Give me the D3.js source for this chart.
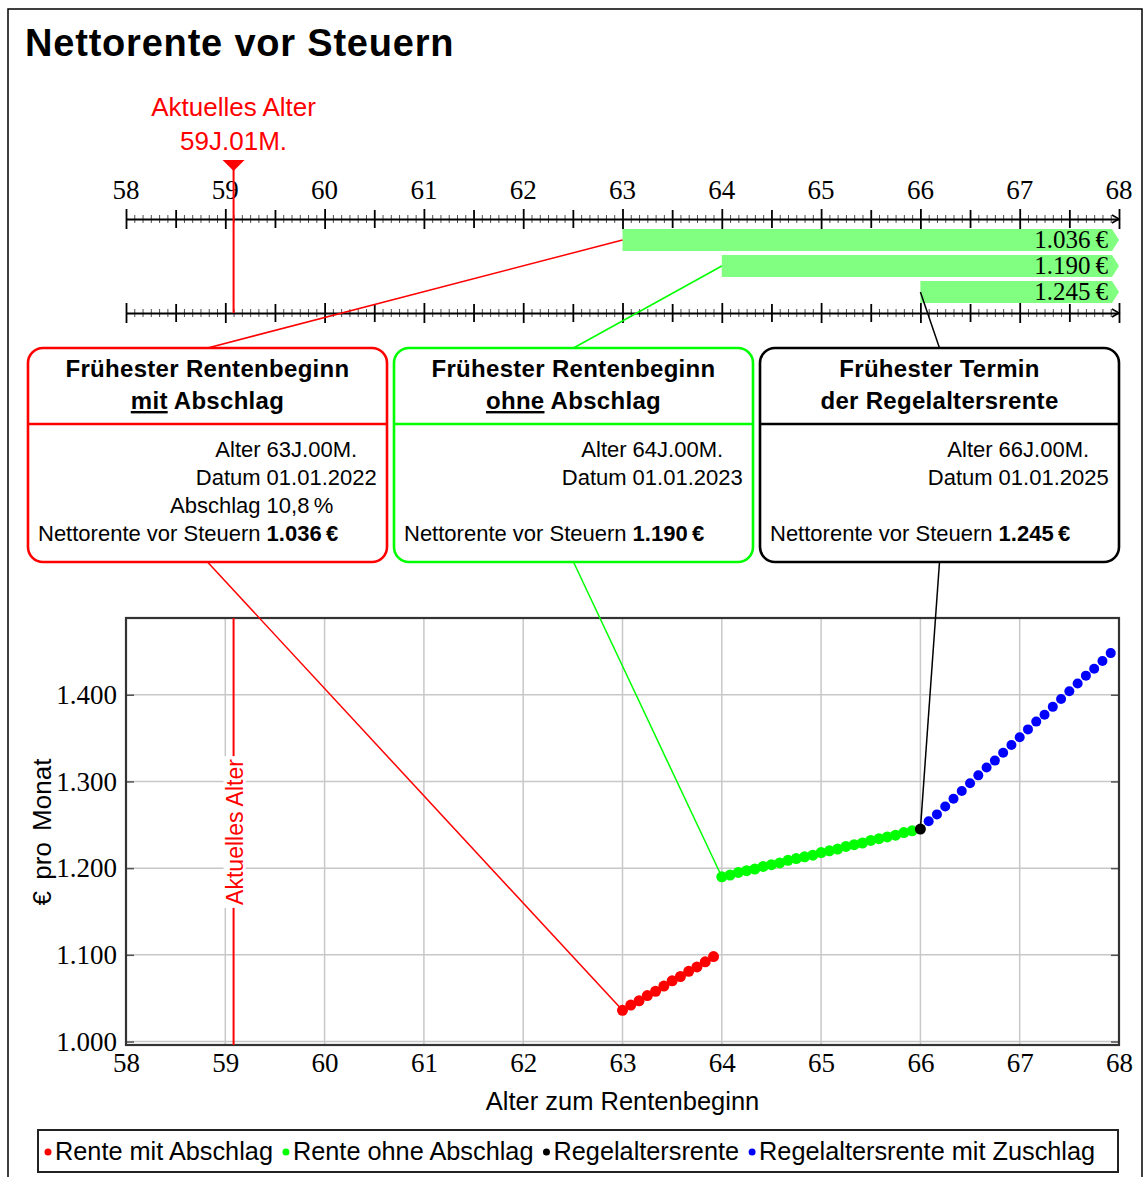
<!DOCTYPE html>
<html>
<head>
<meta charset="utf-8">
<script src="https://cdn.jsdelivr.net/npm/d3@7"></script>
<style>
  body { margin: 0; background: #fff; }
  svg { display: block; }
</style>
</head>
<body>
<div class="chart"></div>
<script>
// ---- data ----
var ageTicks = [58, 59, 60, 61, 62, 63, 64, 65, 66, 67, 68];
var euroTicks = [1000, 1100, 1200, 1300, 1400];
var currentAge = 59 + 1 / 12;
var currentAgeLabel = "59J.01M.";

// monthly pension by start month (first value = start age)
var mitAbschlagStart = 63;
var mitAbschlag = [1036, 1042, 1047, 1053, 1058, 1064, 1070, 1075, 1081, 1086, 1092, 1098];
var ohneAbschlagStart = 64;
var ohneAbschlag = [1190, 1192, 1195, 1197, 1199, 1202, 1204, 1206, 1209, 1211, 1213, 1215,
                    1218, 1220, 1222, 1225, 1227, 1229, 1232, 1234, 1236, 1238, 1241, 1243];
var regelStart = 66;
var regel = [1245];
var zuschlagStart = 66 + 1 / 12;
var zuschlag = [1254, 1262, 1271, 1280, 1289, 1298, 1307, 1316, 1324, 1333, 1342, 1351,
                1360, 1369, 1377, 1386, 1395, 1404, 1413, 1422, 1430, 1439, 1448];

// the three highlighted options
var optionStart = [63, 64, 66];
var optionRente = [1036, 1190, 1245];
var optionTitle1 = ["Frühester Rentenbeginn", "Frühester Rentenbeginn", "Frühester Termin"];
var optionTitle2u = ["mit", "ohne", ""];
var optionTitle2 = [" Abschlag", " Abschlag", "der Regelaltersrente"];
var optionAlter = ["63J.00M.", "64J.00M.", "66J.00M."];
var optionDatum = ["01.01.2022", "01.01.2023", "01.01.2025"];
var optionAbschlag = ["10,8\u2009%", null, null];

var legendLabels = ["Rente mit Abschlag", "Rente ohne Abschlag", "Regelaltersrente", "Regelaltersrente mit Zuschlag"];

// ---- styles ----
var colors = ["#ff0000", "#00ff00", "#000000", "#0000ff"];
var sans = "'Liberation Sans', Arial, sans-serif",
    serif = "'Liberation Serif', 'Times New Roman', serif";

var loc = d3.formatLocale({decimal: ",", thousands: ".", grouping: [3], currency: ["", " €"]});
var fmt = loc.format(",d");

var width = 1145, height = 1177;
var plot = {left: 126, right: 1119, top: 618, bottom: 1045};

var svg = d3.select(".chart").append("svg")
  .attr("width", width)
  .attr("height", height);

var x = d3.scaleLinear().domain([58, 68]).range([plot.left, plot.right]);
var y = d3.scaleLinear().domain([996, 1488.5]).range([plot.bottom, plot.top]);

// outer frame
svg.append("rect")
  .attr("x", 8).attr("y", 9).attr("width", 1134).attr("height", 1180)
  .attr("fill", "none").attr("stroke", "#000").attr("stroke-width", 1.5);

// title
svg.append("text")
  .attr("x", 25).attr("y", 56)
  .attr("font-family", sans).attr("font-weight", "bold").attr("font-size", 38)
  .attr("letter-spacing", 0.8)
  .text("Nettorente vor Steuern");

// ---- timeline ----
var monthAges = d3.range(0, 121).map(m => 58 + m / 12);

function timeline(yPos, withLabels) {
  var g = svg.append("g").attr("transform", `translate(0,${yPos})`);
  g.call(d3.axisTop(x).tickValues(monthAges).tickSize(0).tickFormat(""));
  g.select(".domain").attr("stroke", "#000").attr("stroke-width", 1.8);
  g.selectAll(".tick line")
    .attr("stroke", "#000")
    .attr("y1", (d, i) => i % 12 === 0 ? -10 : i % 6 === 0 ? -9 : -4)
    .attr("y2", (d, i) => i % 12 === 0 ? 10 : i % 6 === 0 ? 9 : 4)
    .attr("stroke-width", (d, i) => i % 6 === 0 ? 1.8 : 1)
    .attr("stroke-opacity", (d, i) => i % 6 === 0 ? 1 : 0.7);
  g.append("path")
    .attr("d", `M${x(68) - 7},-4 L${x(68)},0 L${x(68) - 7},4`)
    .attr("fill", "none").attr("stroke", "#000").attr("stroke-width", 1.5);
  if (withLabels) {
    g.selectAll(".lbl").data(ageTicks).enter().append("text")
      .attr("class", "lbl")
      .attr("x", d => x(d)).attr("y", -20)
      .attr("text-anchor", "middle")
      .attr("fill", "#000")
      .attr("font-family", serif).attr("font-size", 27)
      .text(d => d);
  }
}
timeline(219, true);
timeline(313, false);

// bars of the three options
var barTop = [229, 255, 281], barH = 22;
svg.selectAll(".bar").data(optionStart).enter().append("path")
  .attr("class", "bar")
  .attr("fill", "#80ff80")
  .attr("d", (d, i) => {
    var t = barTop[i], b = t + barH, r = x(68);
    return `M${x(d)},${t} L${r - 7},${t} L${r},${t + barH / 2} L${r - 7},${b} L${x(d)},${b} Z`;
  });
svg.selectAll(".barlbl").data(optionRente).enter().append("text")
  .attr("x", x(68) - 11).attr("y", (d, i) => barTop[i] + 19)
  .attr("text-anchor", "end")
  .attr("font-family", serif).attr("font-size", 25)
  .text(d => fmt(d) + "\u2009€");

// current age marker in timeline
svg.append("line")
  .attr("x1", x(currentAge)).attr("x2", x(currentAge))
  .attr("y1", 165).attr("y2", 313)
  .attr("stroke", "#ff0000").attr("stroke-width", 2);
svg.append("path")
  .attr("d", `M${x(currentAge) - 11},160 L${x(currentAge) + 11},160 L${x(currentAge)},171 Z`)
  .attr("fill", "#ff0000");
svg.append("text")
  .attr("x", x(currentAge)).attr("y", 116)
  .attr("text-anchor", "middle").attr("fill", "#ff0000")
  .attr("font-family", sans).attr("font-size", 26)
  .text("Aktuelles Alter");
svg.append("text")
  .attr("x", x(currentAge)).attr("y", 150)
  .attr("text-anchor", "middle").attr("fill", "#ff0000")
  .attr("font-family", sans).attr("font-size", 26)
  .text(currentAgeLabel);

// ---- plot ----
var gp = svg.append("g");
gp.selectAll(".vgrid").data(ageTicks).enter().append("line")
  .attr("x1", d => x(d)).attr("x2", d => x(d))
  .attr("y1", plot.top).attr("y2", plot.bottom)
  .attr("stroke", "#c8c8c8").attr("stroke-width", 1.5);
gp.selectAll(".hgrid").data(euroTicks).enter().append("line")
  .attr("x1", plot.left).attr("x2", plot.right)
  .attr("y1", d => y(d)).attr("y2", d => y(d))
  .attr("stroke", "#c8c8c8").attr("stroke-width", 1.5);

var xAxis = gp.append("g").attr("transform", `translate(0,${plot.bottom})`)
  .call(d3.axisBottom(x).tickValues(ageTicks).tickSize(0).tickPadding(8).tickFormat(d => d));
var yAxis = gp.append("g").attr("transform", `translate(${plot.left},0)`)
  .call(d3.axisLeft(y).tickValues(euroTicks).tickSize(-8).tickPadding(9).tickFormat(fmt));
var yAxisR = gp.append("g").attr("transform", `translate(${plot.right},0)`)
  .call(d3.axisRight(y).tickValues(euroTicks).tickSize(-8).tickFormat(""));
[xAxis, yAxis, yAxisR].forEach(a => {
  a.select(".domain").remove();
  a.selectAll(".tick line").attr("stroke", "#555").attr("stroke-width", 1.5);
  a.selectAll("text").attr("font-family", serif).attr("font-size", 27).attr("fill", "#000");
});

gp.append("rect")
  .attr("x", plot.left).attr("y", plot.top)
  .attr("width", plot.right - plot.left).attr("height", plot.bottom - plot.top)
  .attr("fill", "none").attr("stroke", "#333").attr("stroke-width", 2.2);

// current age vertical line in plot
gp.append("line")
  .attr("x1", x(currentAge)).attr("x2", x(currentAge))
  .attr("y1", plot.top).attr("y2", plot.bottom)
  .attr("stroke", "#ff0000").attr("stroke-width", 2);
var ageLbl = gp.append("g").attr("transform", `translate(${x(currentAge) + 1},832) rotate(-90)`);
var ageTxt = ageLbl.append("text")
  .attr("text-anchor", "middle").attr("y", 8)
  .attr("font-family", sans).attr("font-size", 23).attr("fill", "#ff0000")
  .text("Aktuelles Alter");
var atw = ageTxt.node().getComputedTextLength();
ageLbl.insert("rect", "text")
  .attr("x", -atw / 2 - 3).attr("y", -11).attr("width", atw + 6).attr("height", 22)
  .attr("fill", "#fff");

// axis labels
svg.append("text")
  .attr("x", (plot.left + plot.right) / 2).attr("y", 1110)
  .attr("text-anchor", "middle")
  .attr("font-family", sans).attr("font-size", 25.5)
  .text("Alter zum Rentenbeginn");
svg.append("text")
  .attr("transform", "translate(51,832) rotate(-90)")
  .attr("text-anchor", "middle")
  .attr("font-family", sans).attr("font-size", 26)
  .attr("word-spacing", 4)
  .text("€ pro Monat");

// ---- connectors from bars to boxes to points ----
var boxX = [28, 394, 760], boxW = 359, boxTop = 348, boxBottom = 562, boxDiv = 424;
var gc = svg.append("g");
optionStart.forEach((d, i) => {
  var cx = boxX[i] + boxW / 2;
  gc.append("line")
    .attr("x1", x(d)).attr("y1", barTop[i] + barH / 2)
    .attr("x2", cx).attr("y2", boxTop)
    .attr("stroke", colors[i]).attr("stroke-width", 1.5);
  gc.append("line")
    .attr("x1", cx).attr("y1", boxBottom)
    .attr("x2", x(d)).attr("y2", y(optionRente[i]))
    .attr("stroke", colors[i]).attr("stroke-width", 1.5);
});

// ---- series points ----
var series = [
  {start: mitAbschlagStart, values: mitAbschlag, color: colors[0], r: 5.5},
  {start: ohneAbschlagStart, values: ohneAbschlag, color: colors[1], r: 5.5},
  {start: zuschlagStart, values: zuschlag, color: colors[3], r: 5},
  {start: regelStart, values: regel, color: colors[2], r: 5.5}
];
series.forEach(s => {
  svg.append("g").selectAll("circle").data(s.values).enter().append("circle")
    .attr("cx", (d, i) => x(s.start + i / 12))
    .attr("cy", d => y(d))
    .attr("r", s.r)
    .attr("fill", s.color);
});

// ---- boxes ----
optionStart.forEach((d, i) => {
  var g = svg.append("g");
  var x0 = boxX[i], cx = x0 + boxW / 2;
  g.append("rect")
    .attr("x", x0).attr("y", boxTop).attr("width", boxW).attr("height", boxBottom - boxTop)
    .attr("rx", 15).attr("ry", 15)
    .attr("fill", "#fff").attr("stroke", colors[i]).attr("stroke-width", 2.6);
  g.append("line")
    .attr("x1", x0).attr("x2", x0 + boxW).attr("y1", boxDiv).attr("y2", boxDiv)
    .attr("stroke", colors[i]).attr("stroke-width", 2.6);
  g.append("text")
    .attr("x", cx).attr("y", 377).attr("text-anchor", "middle")
    .attr("font-family", sans).attr("font-weight", "bold").attr("font-size", 24)
    .attr("letter-spacing", 0.3)
    .text(optionTitle1[i]);
  var t2 = g.append("text")
    .attr("x", cx).attr("y", 409).attr("text-anchor", "middle")
    .attr("font-family", sans).attr("font-weight", "bold").attr("font-size", 24)
    .attr("letter-spacing", 0.3);
  if (optionTitle2u[i]) {
    t2.append("tspan").style("text-decoration", "underline").text(optionTitle2u[i]);
  }
  t2.append("tspan").text(optionTitle2[i]);

  var rows = [
    ["Alter", optionAlter[i], false],
    ["Datum", optionDatum[i], false],
    optionAbschlag[i] ? ["Abschlag", optionAbschlag[i], false] : null,
    ["Nettorente vor Steuern", fmt(optionRente[i]) + "\u2009€", true]
  ];
  var probe = g.append("text").attr("font-family", sans).attr("font-size", 22)
    .text("Nettorente vor Steuern");
  var colX = x0 + 10 + probe.node().getComputedTextLength();
  probe.remove();
  rows.forEach((r, k) => {
    if (!r) return;
    var yy = 457 + k * 28;
    g.append("text")
      .attr("x", colX).attr("y", yy).attr("text-anchor", "end")
      .attr("font-family", sans).attr("font-size", 22)
      .text(r[0]);
    g.append("text")
      .attr("x", colX + 6).attr("y", yy)
      .attr("font-family", sans).attr("font-size", 22)
      .attr("font-weight", r[2] ? "bold" : "normal")
      .text(r[1]);
  });
});

// ---- legend ----
var lg = svg.append("g");
lg.append("rect")
  .attr("x", 38).attr("y", 1130).attr("width", 1080).attr("height", 42)
  .attr("fill", "#fff").attr("stroke", "#222").attr("stroke-width", 2);
var lx = 48;
legendLabels.forEach((lab, i) => {
  lg.append("circle").attr("cx", lx).attr("cy", 1152).attr("r", 3.5).attr("fill", colors[i]);
  var t = lg.append("text")
    .attr("x", lx + 7).attr("y", 1160)
    .attr("font-family", sans).attr("font-size", 25.3)
    .text(lab);
  lx = lx + 7 + t.node().getComputedTextLength() + 13;
});
</script>
</body>
</html>
